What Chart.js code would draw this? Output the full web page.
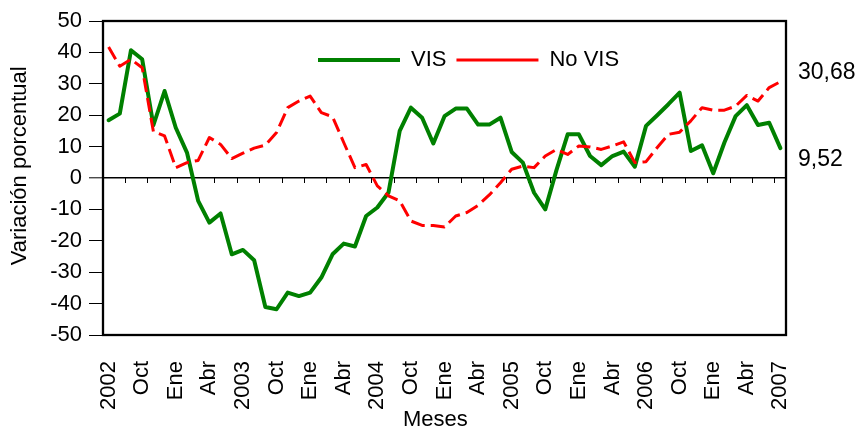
<!DOCTYPE html>
<html>
<head>
<meta charset="utf-8">
<script src="https://cdn.jsdelivr.net/npm/chart.js@4"></script>
<style>
  html, body { margin: 0; padding: 0; background: #fff; }
  canvas { display: block; }
</style>
</head>
<body>
<canvas id="chart" width="859" height="432"></canvas>
<script>
// Monthly categories, July 2002 to July 2007
const categories = [
  'Jul 2002','Ago 2002','Sep 2002','Oct 2002','Nov 2002','Dic 2002',
  'Ene 2003','Feb 2003','Mar 2003','Abr 2003','May 2003','Jun 2003',
  'Jul 2003','Ago 2003','Sep 2003','Oct 2003','Nov 2003','Dic 2003',
  'Ene 2004','Feb 2004','Mar 2004','Abr 2004','May 2004','Jun 2004',
  'Jul 2004','Ago 2004','Sep 2004','Oct 2004','Nov 2004','Dic 2004',
  'Ene 2005','Feb 2005','Mar 2005','Abr 2005','May 2005','Jun 2005',
  'Jul 2005','Ago 2005','Sep 2005','Oct 2005','Nov 2005','Dic 2005',
  'Ene 2006','Feb 2006','Mar 2006','Abr 2006','May 2006','Jun 2006',
  'Jul 2006','Ago 2006','Sep 2006','Oct 2006','Nov 2006','Dic 2006',
  'Ene 2007','Feb 2007','Mar 2007','Abr 2007','May 2007','Jun 2007',
  'Jul 2007'
];

// Quarterly axis labels (one every third month)
const tickLabels = ['2002','Oct','Ene','Abr','2003','Oct','Ene','Abr','2004','Oct','Ene','Abr',
                    '2005','Oct','Ene','Abr','2006','Oct','Ene','Abr','2007'];

// Variación porcentual, VIS
const vis = [
  18.4, 20.5, 40.7, 37.8, 16.8, 27.7, 16.0, 8.1, -7.3, -14.2,
  -11.3, -24.3, -22.9, -26.2, -41.1, -41.8, -36.5, -37.6, -36.5, -31.7,
  -24.3, -20.9, -21.8, -12.1, -9.4, -4.6, 15.0, 22.4, 19.2, 11.0,
  19.7, 22.1, 22.1, 17.0, 17.0, 19.2, 8.3, 4.9, -4.7, -10.0,
  2.5, 13.9, 13.9, 7.0, 4.1, 7.0, 8.4, 3.6, 16.6, 20.0,
  23.5, 27.2, 8.6, 10.4, 1.5, 11.3, 19.7, 23.2, 16.9, 17.6,
  9.52
];

// Variación porcentual, No VIS
const noVis = [
  41.7, 35.6, 37.8, 35.1, 14.8, 13.4, 3.3, 4.9, 5.6, 12.9,
  10.7, 6.2, 7.9, 9.5, 10.5, 14.5, 22.4, 24.5, 26.1, 20.8,
  19.5, 11.3, 3.3, 4.3, -2.5, -5.7, -7.3, -13.7, -15.1, -15.1,
  -15.6, -12.1, -11.0, -8.7, -5.4, -1.5, 2.8, 3.8, 3.3, 7.0,
  9.1, 7.5, 10.2, 9.9, 9.1, 10.2, 11.5, 4.9, 5.2, 9.7,
  13.9, 14.6, 18.2, 22.4, 21.6, 21.6, 22.9, 26.3, 24.5, 28.8,
  30.68
];

const FONT = "'Liberation Sans', Arial, Helvetica, sans-serif";
Chart.defaults.font.family = FONT;
Chart.defaults.color = '#000';

// Legend sits inside the plot area instead of taking space above it
const insideLegend = {
  id: 'insideLegend',
  afterInit(chart) {
    const lg = chart.legend;
    const fit = lg.fit;
    lg.fit = function () { fit.call(this); this.height = 0; };
  },
  afterLayout(chart, args, opts) {
    const lg = chart.legend, a = chart.chartArea;
    lg.left = a.left + opts.dx;
    lg.right = a.right;
    lg.top = a.top + opts.dy;
    lg.bottom = lg.top + 44;
  }
};

// Plot frame and the closing values printed beside the plot
const frameAndValues = {
  id: 'frameAndValues',
  afterDatasetsDraw(chart, args, opts) {
    const { ctx, chartArea: a, scales: { y } } = chart;
    ctx.save();
    ctx.strokeStyle = '#000';
    ctx.lineWidth = opts.frameWidth;
    ctx.strokeRect(a.left, a.top, a.right - a.left, a.bottom - a.top);
    ctx.font = opts.font;
    ctx.fillStyle = '#000';
    ctx.textAlign = 'left';
    ctx.textBaseline = 'middle';
    chart.data.datasets.forEach((ds, i) => {
      const v = ds.data[ds.data.length - 1];
      const py = y.getPixelForValue(v) + opts.shift[i];
      ctx.fillText(v.toFixed(2).replace('.', ','), a.right + opts.gap, py);
    });
    ctx.restore();
  }
};

new Chart(document.getElementById('chart'), {
  type: 'line',
  data: {
    labels: categories,
    datasets: [
      {
        label: 'VIS',
        data: vis,
        borderColor: '#008000',
        backgroundColor: '#008000',
        borderWidth: 4,
        pointRadius: 0,
        tension: 0,
        borderCapStyle: 'round',
        borderJoinStyle: 'round',
        order: 2
      },
      {
        label: 'No VIS',
        data: noVis,
        borderColor: '#FF0000',
        backgroundColor: '#FF0000',
        borderWidth: 3,
        borderDash: [14, 6],
        pointRadius: 0,
        tension: 0,
        borderJoinStyle: 'round',
        order: 1
      }
    ]
  },
  options: {
    responsive: false,
    animation: false,
    devicePixelRatio: 1,
    events: [],
    layout: { padding: { top: 21, right: 73, left: 0, bottom: 0 } },
    scales: {
      x: {
        type: 'category',
        offset: true,
        grid: { display: false },
        border: { display: false },
        ticks: {
          autoSkip: false,
          minRotation: 90,
          maxRotation: 90,
          padding: 18,
          font: { size: 22 },
          callback: (v, i) => (i % 3 === 0 ? tickLabels[i / 3] : '')
        },
        title: { display: true, text: 'Meses   ', font: { size: 22 }, padding: { top: 0, bottom: -1 } },
        afterFit: s => { s.height = 97; }
      },
      xz: {
        type: 'category',
        offset: true,
        position: { y: 0 },
        ticks: { display: false },
        grid: {
          offset: true,
          drawOnChartArea: false,
          drawTicks: true,
          tickLength: 5,
          tickWidth: 1,
          tickColor: c => (c.index % 2 === 0 ? '#000' : 'rgba(0,0,0,0)')
        },
        border: { display: false }
      },
      y: {
        min: -50,
        max: 50,
        ticks: { stepSize: 10, padding: 7, font: { size: 22 } },
        grid: {
          color: c => (c.tick && c.tick.value === 0 ? '#000' : 'rgba(0,0,0,0)'),
          lineWidth: c => (c.tick && c.tick.value === 0 ? 1.6 : 1),
          tickColor: '#000',
          tickLength: 14,
          tickWidth: 1
        },
        border: { display: false },
        title: {
          display: true,
          text: '    Variación porcentual',
          font: { size: 22 },
          padding: { top: 7, bottom: 0 }
        },
        afterFit: s => { s.width = 103; }
      }
    },
    plugins: {
      legend: {
        position: 'top',
        align: 'start',
        labels: {
          usePointStyle: true,
          pointStyle: 'line',
          pointStyleWidth: 82,
          padding: 10,
          color: '#000',
          font: { size: 22 },
          sort: (a, b) => a.datasetIndex - b.datasetIndex
        }
      },
      tooltip: { enabled: false },
      insideLegend: { dx: 205, dy: 18 },
      frameAndValues: { frameWidth: 2.3, font: '23px ' + FONT, gap: 12, shift: [12, -9] }
    }
  },
  plugins: [insideLegend, frameAndValues]
});
</script>
</body>
</html>
